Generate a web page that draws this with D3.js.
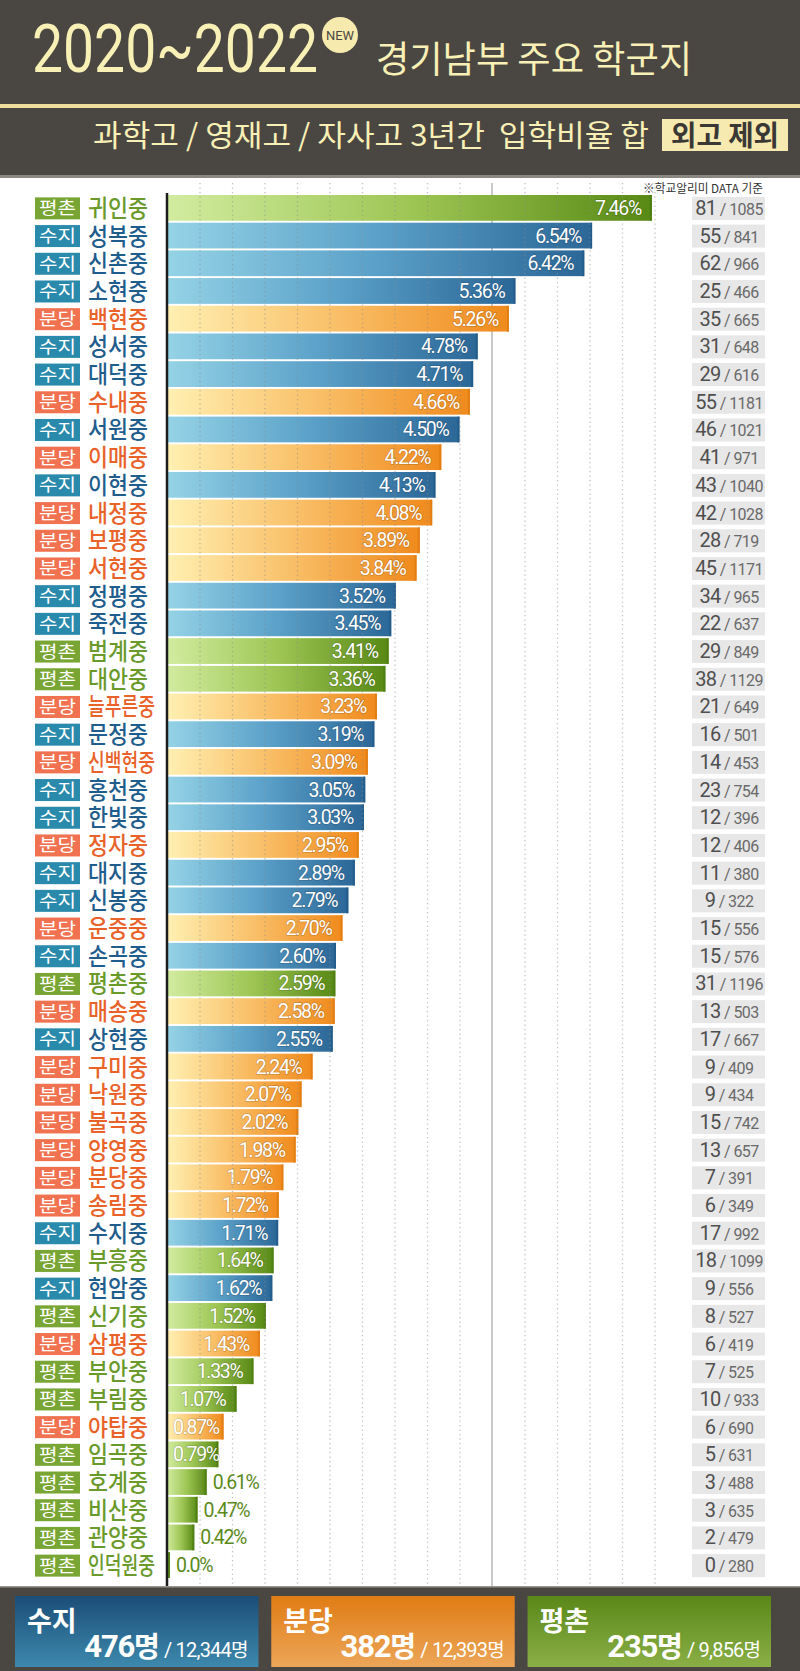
<!DOCTYPE html>
<html><head><meta charset="utf-8">
<script src="https://cdn.jsdelivr.net/npm/d3@7"></script>
<style>
html,body{margin:0;padding:0;background:#fff;}
svg{display:block;}
text{font-family:"Noto Sans CJK KR","Noto Sans",sans-serif;}
.num{font-family:Roboto,"Noto Sans",sans-serif;}
</style></head>
<body>
<svg id="c" width="800" height="1671"></svg>
<script>
const regions = ["평촌","수지","수지","수지","분당","수지","수지","분당","수지","분당","수지","분당","분당","분당","수지","수지","평촌","평촌","분당","수지","분당","수지","수지","분당","수지","수지","분당","수지","평촌","분당","수지","분당","분당","분당","분당","분당","분당","수지","평촌","수지","평촌","분당","평촌","평촌","분당","평촌","평촌","평촌","평촌","평촌"];
const schools = ["귀인중","성복중","신촌중","소현중","백현중","성서중","대덕중","수내중","서원중","이매중","이현중","내정중","보평중","서현중","정평중","죽전중","범계중","대안중","늘푸른중","문정중","신백현중","홍천중","한빛중","정자중","대지중","신봉중","운중중","손곡중","평촌중","매송중","상현중","구미중","낙원중","불곡중","양영중","분당중","송림중","수지중","부흥중","현암중","신기중","삼평중","부안중","부림중","야탑중","임곡중","호계중","비산중","관양중","인덕원중"];
const ratios = [7.46,6.54,6.42,5.36,5.26,4.78,4.71,4.66,4.50,4.22,4.13,4.08,3.89,3.84,3.52,3.45,3.41,3.36,3.23,3.19,3.09,3.05,3.03,2.95,2.89,2.79,2.70,2.60,2.59,2.58,2.55,2.24,2.07,2.02,1.98,1.79,1.72,1.71,1.64,1.62,1.52,1.43,1.33,1.07,0.87,0.79,0.61,0.47,0.42,0.0];
const ratioLabels = ["7.46%","6.54%","6.42%","5.36%","5.26%","4.78%","4.71%","4.66%","4.50%","4.22%","4.13%","4.08%","3.89%","3.84%","3.52%","3.45%","3.41%","3.36%","3.23%","3.19%","3.09%","3.05%","3.03%","2.95%","2.89%","2.79%","2.70%","2.60%","2.59%","2.58%","2.55%","2.24%","2.07%","2.02%","1.98%","1.79%","1.72%","1.71%","1.64%","1.62%","1.52%","1.43%","1.33%","1.07%","0.87%","0.79%","0.61%","0.47%","0.42%","0.0%"];
const admitted = [81,55,62,25,35,31,29,55,46,41,43,42,28,45,34,22,29,38,21,16,14,23,12,12,11,9,15,15,31,13,17,9,9,15,13,7,6,17,18,9,8,6,7,10,6,5,3,3,2,0];
const totals = [1085,841,966,466,665,648,616,1181,1021,971,1040,1028,719,1171,965,637,849,1129,649,501,453,754,396,406,380,322,556,576,1196,503,667,409,434,742,657,391,349,992,1099,556,527,419,525,933,690,631,488,635,479,280];
const gridTicks = [0.5,1,1.5,2,2.5,3,3.5,4,4.5,5,5.5,6,6.5,7,7.5];
const summaryRegions = ["수지","분당","평촌"];
const summaryAdmitted = ["476명","382명","235명"];
const summaryTotals = ["12,344명","12,393명","9,856명"];

const svg = d3.select("#c");
const defs = svg.append("defs");
const dark = "#4a4743";

const regionStyle = {
  "수지": {tag:"#2a8aac", name:"#1f5d8c", stops:["#95d3e6","#5aa0c8","#2b6797"], edge:"#225a88", box:["#1b4d77","#3d89ad"]},
  "분당": {tag:"#f07250", name:"#e8622a", stops:["#fff0b2","#f9bf68","#f08a1c"], edge:"#e07a12", box:["#e07c14","#eca658"]},
  "평촌": {tag:"#79a534", name:"#6a9a2b", stops:["#d2eca0","#9ec655","#588915"], edge:"#4e7d12", box:["#5a8818","#8aaf46"]}
};
Object.entries(regionStyle).forEach(([k,s],i)=>{
  const g = defs.append("linearGradient").attr("id","bar"+i).attr("x1",0).attr("x2",1).attr("y1",0).attr("y2",0);
  g.append("stop").attr("offset","0%").attr("stop-color",s.stops[0]);
  g.append("stop").attr("offset","50%").attr("stop-color",s.stops[1]);
  g.append("stop").attr("offset","100%").attr("stop-color",s.stops[2]);
  s.grad = "url(#bar"+i+")";
  const b = defs.append("linearGradient").attr("id","box"+i).attr("x1",0).attr("x2",0).attr("y1",0).attr("y2",1);
  b.append("stop").attr("offset","0%").attr("stop-color",s.box[0]);
  b.append("stop").attr("offset","100%").attr("stop-color",s.box[1]);
  s.boxGrad = "url(#box"+i+")";
});

// ---------- header ----------
svg.append("rect").attr("x",0).attr("y",0).attr("width",800).attr("height",178).attr("fill",dark);
svg.append("rect").attr("x",0).attr("y",104).attr("width",800).attr("height",4).attr("fill","#efdf9e");
svg.append("rect").attr("x",0).attr("y",175).attr("width",800).attr("height",3).attr("fill","#8a8680");
svg.append("text").attr("x",32).attr("y",72).attr("textLength",286).attr("lengthAdjust","spacingAndGlyphs")
  .attr("font-size",66).attr("fill","#f9f0b6").attr("class","num").text("2020~2022");
svg.append("circle").attr("cx",340).attr("cy",35).attr("r",18).attr("fill","#f6eaae");
svg.append("text").attr("x",340).attr("y",40).attr("text-anchor","middle").attr("font-size",13)
  .attr("textLength",28).attr("lengthAdjust","spacingAndGlyphs").attr("fill","#4a4743").attr("class","num").text("NEW");
svg.append("text").attr("x",376).attr("y",73).attr("textLength",316).attr("lengthAdjust","spacingAndGlyphs")
  .attr("font-size",37).attr("fill","#f9f0b6").text("경기남부 주요 학군지");
svg.append("text").attr("x",93).attr("y",146).attr("textLength",556).attr("lengthAdjust","spacingAndGlyphs")
  .attr("font-size",30).attr("fill","#f9f0b6").text("과학고 / 영재고 / 자사고 3년간\u00A0\u00A0입학비율 합");
svg.append("rect").attr("x",662).attr("y",119).attr("width",126).attr("height",32).attr("fill","#f7eab0");
svg.append("text").attr("x",725).attr("y",146).attr("text-anchor","middle").attr("textLength",108).attr("lengthAdjust","spacingAndGlyphs")
  .attr("font-size",28).attr("font-weight",700).attr("fill","#3a3835").text("외고 제외");
svg.append("text").attr("x",763).attr("y",193).attr("text-anchor","end").attr("font-size",12).attr("fill","#333")
  .attr("textLength",120).attr("lengthAdjust","spacingAndGlyphs").text("※학교알리미 DATA 기준");

// ---------- scales ----------
const x = d3.scaleLinear().domain([0,7.5]).range([167,654.5]);
const idx = d3.range(schools.length);
const y = d3.scaleBand().domain(idx).range([195,1578]).paddingInner(0.07);
const bh = y.bandwidth();
const barW = i => Math.max(x(ratios[i])-x(0),3);

// solid 5% line (behind bars)
svg.append("line").attr("x1",x(5)).attr("x2",x(5)).attr("y1",183).attr("y2",1587).attr("stroke","#c9c9c9").attr("stroke-width",2);

// bars
const rows = svg.append("g").selectAll("g").data(idx).join("g");
rows.append("rect")
  .attr("x",x(0)).attr("y",i=>y(i)).attr("height",bh)
  .attr("width",barW)
  .attr("fill",i=>regionStyle[regions[i]].grad);
rows.append("rect")
  .attr("x",i=>x(0)+barW(i)-2).attr("y",i=>y(i)).attr("height",bh).attr("width",2)
  .attr("fill",i=>regionStyle[regions[i]].edge).attr("opacity",0.8);

// dotted gridlines (on top)
const gridAxis = d3.axisTop(x).tickValues(gridTicks.filter(t=>t!==5)).tickSize(-(1587-183)).tickFormat("");
const gg = svg.append("g").attr("transform","translate(0,183)").call(gridAxis);
gg.select(".domain").remove();
gg.selectAll(".tick line").attr("stroke","#8c8c8c").attr("stroke-opacity",0.55).attr("stroke-width",1.3).attr("stroke-dasharray","1.3,3.2");

// axis line
const ax = d3.axisLeft(y).tickSize(0).tickFormat("");
const ag = svg.append("g").attr("transform","translate(167,0)").call(ax);
ag.select(".domain").attr("stroke","#1d1d1d").attr("stroke-width",2.5).attr("d","M0,193V1587");

// value labels
const inside = i => ratios[i] >= 0.7;
const vl = rows.append("text").attr("class","num")
  .attr("x",i=> inside(i) ? x(ratios[i]) - 11 : x(0) + barW(i) + 6)
  .attr("y",i=>y(i)+bh/2+7)
  .attr("text-anchor",i=> inside(i) ? "end" : "start")
  .attr("font-size",19.5).attr("letter-spacing","-1.3")
  .attr("fill",i=> inside(i) ? "#fff" : "#5b8a1b")
  .style("paint-order","stroke")
  .attr("stroke",i=> inside(i) ? "rgba(0,0,0,0.18)" : "none").attr("stroke-width",1.5)
  .text(i=>ratioLabels[i]);
vl.each(function(i){
  if(!inside(i)) return;
  const w = this.getComputedTextLength();
  const left = x(ratios[i]) - 11 - w;
  if(left < x(0)+6){ d3.select(this).attr("text-anchor","start").attr("x",x(0)+6); }
});

// tags & names
rows.append("rect").attr("x",35).attr("width",45).attr("y",i=>y(i)+bh/2-10.5).attr("height",22)
  .attr("fill",i=>regionStyle[regions[i]].tag);
rows.append("text").attr("x",57.5).attr("y",i=>y(i)+bh/2+6.5).attr("text-anchor","middle")
  .attr("font-size",17.5).attr("fill","#fff").attr("textLength",37).attr("lengthAdjust","spacingAndGlyphs")
  .text(i=>regions[i]);
rows.append("text").attr("x",88).attr("y",i=>y(i)+bh/2+9)
  .attr("font-size",24).attr("font-weight",500).attr("fill",i=>regionStyle[regions[i]].name)
  .attr("textLength",i=>schools[i].length > 3 ? 67 : 60).attr("lengthAdjust","spacingAndGlyphs")
  .text(i=>schools[i]);

// count boxes
rows.append("rect").attr("x",692).attr("width",73).attr("y",i=>y(i)+bh/2-11).attr("height",23).attr("fill","#e7e7e7");
const ct = rows.append("text").attr("class","num").attr("x",729).attr("y",i=>y(i)+bh/2+7).attr("text-anchor","middle").attr("letter-spacing","-0.6");
ct.append("tspan").attr("font-size",20).attr("fill","#4f4f4f").text(i=>admitted[i]);
ct.append("tspan").attr("font-size",16).attr("fill","#6a6a6a").text(i=>" / "+totals[i]);

// ---------- bottom ----------
svg.append("rect").attr("x",0).attr("y",1587).attr("width",800).attr("height",84).attr("fill",dark);
svg.append("rect").attr("x",0).attr("y",1586).attr("width",800).attr("height",1.5).attr("fill","#9a9690");
const bx = d3.scaleBand().domain(summaryRegions).range([15,771]).paddingInner(0.05);
const sb = svg.append("g").selectAll("g").data(summaryRegions).join("g");
sb.append("rect").attr("x",d=>bx(d)).attr("y",1596).attr("width",bx.bandwidth()).attr("height",71)
  .attr("fill",d=>regionStyle[d].boxGrad);
sb.append("text").attr("x",d=>bx(d)+12).attr("y",1631).attr("font-size",27).attr("font-weight",700).attr("fill","#fff").text(d=>d);
const st = sb.append("text").attr("x",d=>bx(d)+bx.bandwidth()-10).attr("y",1657).attr("text-anchor","end").attr("fill","#fff");
st.append("tspan").attr("class","num").attr("font-size",31).attr("font-weight",700).attr("letter-spacing","-1.2").text((d,i)=>summaryAdmitted[i].replace("명",""));
st.append("tspan").attr("font-size",28).attr("font-weight",700).text("명");
st.append("tspan").attr("class","num").attr("font-size",20).attr("letter-spacing","-0.8").text((d,i)=>" / "+summaryTotals[i].replace("명",""));
st.append("tspan").attr("font-size",19).text("명");
</script>
</body></html>
